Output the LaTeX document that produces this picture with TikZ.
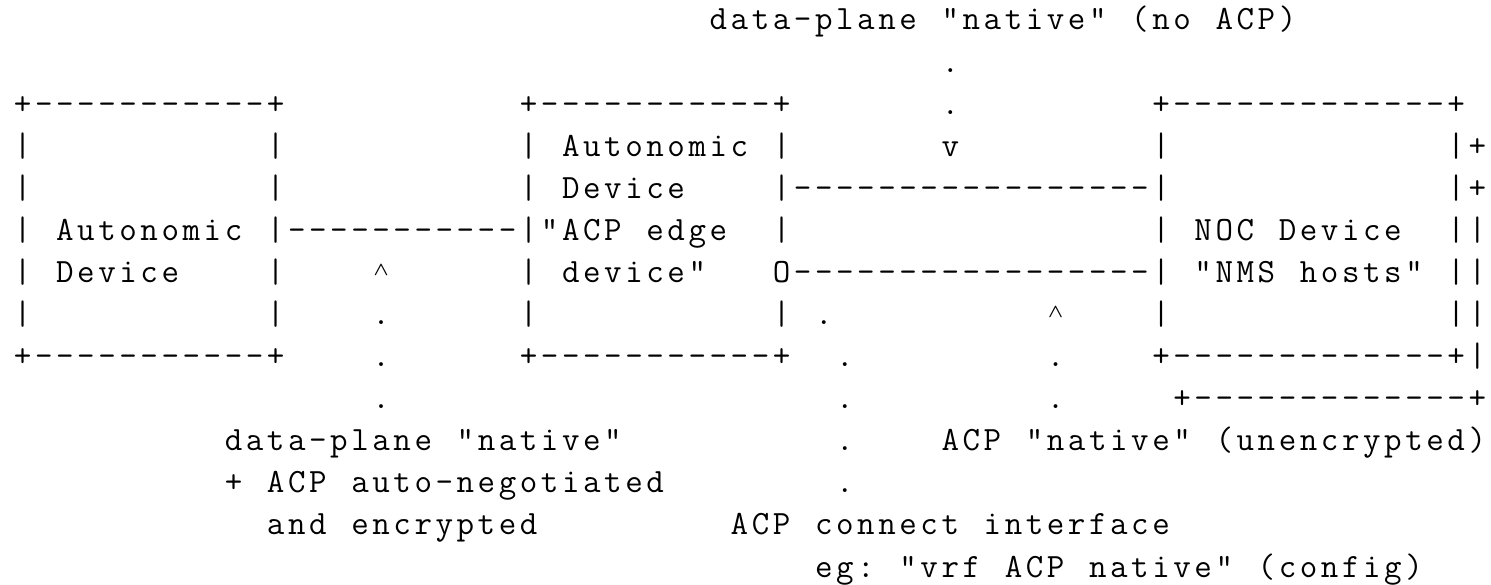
\documentclass[tikz,border=0pt]{standalone}
\usepackage{tikz}
\usepackage{graphicx}
\newlength\cw
\setlength\cw{21.08pt}
\makeatletter
\def\mycells@end{mycells@end}
\newcommand\mycells[1]{\mycells@a#1\mycells@end}
\def\mycells@a#1{\ifx#1\mycells@end\else\makebox[\cw][c]{#1}\expandafter\mycells@a\fi}
\makeatother
\newcommand\caret{\raisebox{7pt}{\resizebox{15pt}{10.5pt}{\boldmath$\wedge$}}}
\tikzset{tx/.style={anchor=base west, inner sep=0pt, outer sep=0pt, font=\fontsize{34}{40}\selectfont\ttfamily}}
\newcommand\ascii[3]{\node[tx] (r#2c#1) at ({12.2+#1*21.08},{554-(#2-1)*42.08}) {\mycells{#3}};}
\begin{document}
\begin{tikzpicture}[x=1pt,y=1pt]
\useasboundingbox (0,0) rectangle (1491,584);
% row 1
\ascii{33}{1}{data-plane} \ascii{44}{1}{"native"} \ascii{53}{1}{(no} \ascii{57}{1}{ACP)}
% row 2
\ascii{44}{2}{.}
% row 3
\ascii{0}{3}{+-----------+} \ascii{24}{3}{+-----------+} \ascii{44}{3}{.} \ascii{54}{3}{+-------------+}
% row 4
\ascii{0}{4}{|} \ascii{12}{4}{|} \ascii{24}{4}{|} \ascii{26}{4}{Autonomic} \ascii{36}{4}{|} \ascii{44}{4}{v} \ascii{54}{4}{|} \ascii{68}{4}{|+}
% row 5
\ascii{0}{5}{|} \ascii{12}{5}{|} \ascii{24}{5}{|} \ascii{26}{5}{Device} \ascii{36}{5}{|-----------------|} \ascii{68}{5}{|+}
% row 6
\ascii{0}{6}{|} \ascii{2}{6}{Autonomic} \ascii{12}{6}{|-----------|"ACP} \ascii{30}{6}{edge} \ascii{36}{6}{|} \ascii{54}{6}{|} \ascii{56}{6}{NOC} \ascii{60}{6}{Device} \ascii{68}{6}{||}
% row 7
\ascii{0}{7}{|} \ascii{2}{7}{Device} \ascii{12}{7}{|} \ascii{17}{7}{\caret} \ascii{24}{7}{|} \ascii{26}{7}{device"} \ascii{36}{7}{O-----------------|} \ascii{56}{7}{"NMS} \ascii{61}{7}{hosts"} \ascii{68}{7}{||}
% row 8
\ascii{0}{8}{|} \ascii{12}{8}{|} \ascii{17}{8}{.} \ascii{24}{8}{|} \ascii{36}{8}{|} \ascii{38}{8}{.} \ascii{49}{8}{\caret} \ascii{54}{8}{|} \ascii{68}{8}{||}
% row 9
\ascii{0}{9}{+-----------+} \ascii{17}{9}{.} \ascii{24}{9}{+-----------+} \ascii{39}{9}{.} \ascii{49}{9}{.} \ascii{54}{9}{+-------------+|}
% row 10
\ascii{17}{10}{.} \ascii{39}{10}{.} \ascii{49}{10}{.} \ascii{55}{10}{+-------------+}
% row 11
\ascii{10}{11}{data-plane} \ascii{21}{11}{"native"} \ascii{39}{11}{.} \ascii{44}{11}{ACP} \ascii{48}{11}{"native"} \ascii{57}{11}{(unencrypted)}
% row 12
\ascii{10}{12}{+} \ascii{12}{12}{ACP} \ascii{16}{12}{auto-negotiated} \ascii{39}{12}{.}
% row 13
\ascii{12}{13}{and} \ascii{16}{13}{encrypted} \ascii{34}{13}{ACP} \ascii{38}{13}{connect} \ascii{46}{13}{interface}
% row 14
\ascii{38}{14}{eg:} \ascii{42}{14}{"vrf} \ascii{47}{14}{ACP} \ascii{51}{14}{native"} \ascii{59}{14}{(config)}
\end{tikzpicture}
\end{document}
